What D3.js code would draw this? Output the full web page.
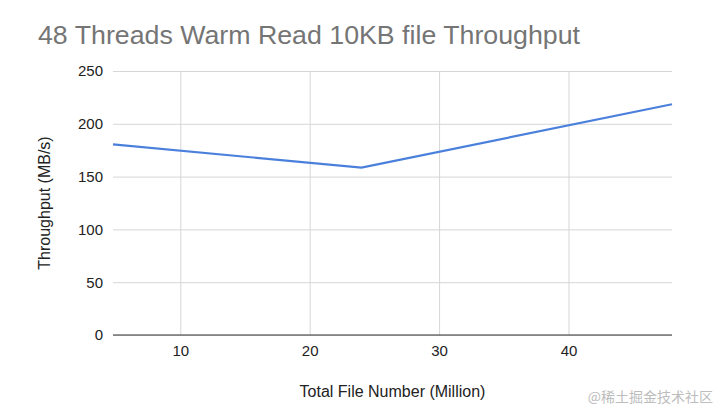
<!DOCTYPE html>
<html><head><meta charset="utf-8">
<script src="https://cdn.jsdelivr.net/npm/d3@7"></script>
<style>body{margin:0;background:#fff}svg{display:block;font-family:"Liberation Sans",Arial,sans-serif}</style>
</head><body><svg id="c" width="720" height="412"></svg>
<script>
const fileNumbers = [4.8, 24, 48];
const throughput = [180.5, 158.5, 218.5];
const xTicks = [10, 20, 30, 40];
const yTicks = [0, 50, 100, 150, 200, 250];
const title = "48 Threads Warm Read 10KB file Throughput";
const xTitle = "Total File Number (Million)";
const yTitle = "Throughput (MB/s)";
const watermark = "@稀土掘金技术社区";

const svg = d3.select("#c");
const L = 113, R = 672, T = 71, B = 335;
const x = d3.scaleLinear().domain([4.8, 48]).range([L, R]);
const y = d3.scaleLinear().domain([0, 250]).range([B, T]);

svg.append("text").attr("x", 38).attr("y", 43.5).attr("font-size", 25.5).attr("fill", "#757575")
  .attr("textLength", 542).attr("lengthAdjust", "spacingAndGlyphs").text(title);

// horizontal grid
svg.append("g").attr("transform", `translate(${L},0)`)
  .call(d3.axisLeft(y).tickValues(yTicks).tickSize(-(R - L)).tickFormat(d => d).tickPadding(10))
  .call(g => g.select(".domain").remove())
  .call(g => g.selectAll("line").attr("stroke", "#d6d6d6"))
  .call(g => g.selectAll("text").attr("font-size", 15).attr("fill", "#222").attr("font-family", "Liberation Sans, Arial, sans-serif"));

// vertical grid
svg.append("g").attr("transform", `translate(0,${B})`)
  .call(d3.axisBottom(x).tickValues(xTicks).tickSize(-(B - T)).tickPadding(10))
  .call(g => g.select(".domain").remove())
  .call(g => g.selectAll("line").attr("stroke", "#d6d6d6"))
  .call(g => g.selectAll("text").attr("font-size", 15).attr("fill", "#222").attr("font-family", "Liberation Sans, Arial, sans-serif"));

// zero baseline
svg.append("line").attr("x1", L).attr("x2", R).attr("y1", y(0)).attr("y2", y(0)).attr("stroke", "#333").attr("stroke-width", 1.2);

const data = fileNumbers.map((v, i) => [v, throughput[i]]);
svg.append("path").datum(data)
  .attr("d", d3.line().x(d => x(d[0])).y(d => y(d[1])))
  .attr("fill", "none").attr("stroke", "#4a80dc").attr("stroke-width", 2.2);

svg.append("text").attr("x", 392.5).attr("y", 396.5).attr("text-anchor", "middle")
  .attr("font-size", 16).attr("fill", "#222").text(xTitle);
svg.append("text").attr("transform", `translate(49.5,${(T + B) / 2}) rotate(-90)`).attr("text-anchor", "middle")
  .attr("font-size", 16).attr("fill", "#222").text(yTitle);

svg.append("text").attr("x", 713).attr("y", 402).attr("text-anchor", "end")
  .attr("font-size", 14).attr("fill", "#bdbdbd").attr("font-family", "Noto Sans CJK SC, sans-serif").text(watermark);
</script></body></html>
